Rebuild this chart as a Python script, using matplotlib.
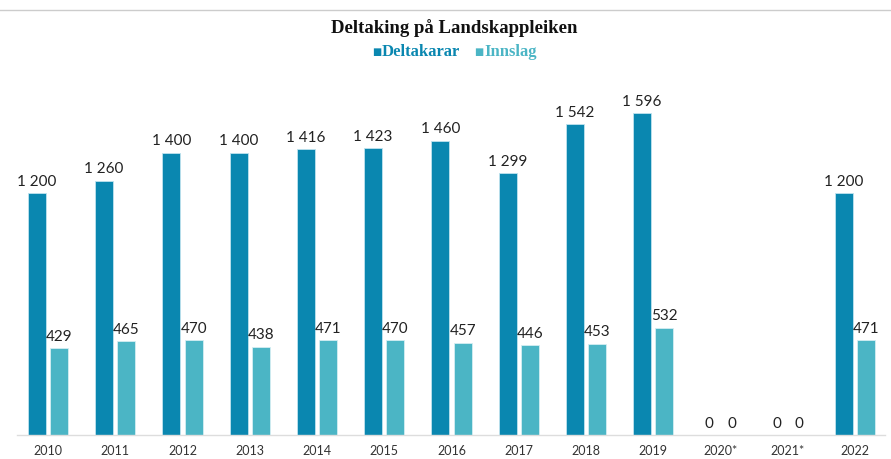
import matplotlib

matplotlib.use("Agg")

import matplotlib.pyplot as plt  # noqa: E402
import numpy as np  # noqa: E402

years = ["2010", "2011", "2012", "2013", "2014", "2015", "2016",
         "2017", "2018", "2019", "2020*", "2021*", "2022"]
deltakarar = [1200, 1260, 1400, 1400, 1416, 1423, 1460,
              1299, 1542, 1596, 0, 0, 1200]
innslag = [429, 465, 470, 438, 471, 470, 457,
           446, 453, 532, 0, 0, 471]

DARK = "#0a87b0"
LIGHT = "#4bb5c5"
SERIF = ["Liberation Serif", "DejaVu Serif"]


def fmt(v):
    return f"{v:,}".replace(",", " ")


fig = plt.figure(figsize=(8.91, 4.59), dpi=100)
ax = fig.add_axes([17 / 891, 24 / 459, 868 / 891, 363 / 459])

x = np.arange(len(years))
w = 0.27
off = 0.165
ax.bar(x - off, deltakarar, width=w, color=DARK, edgecolor="#bfe3ee", linewidth=0.6)
ax.bar(x + off, innslag, width=w, color=LIGHT, edgecolor="#d5eef2", linewidth=0.6)

for xi, v in zip(x, deltakarar):
    ax.text(xi - off, v + 22, fmt(v), ha="center", va="bottom",
            fontsize=11, family="Lato", color="#222222")
for xi, v in zip(x, innslag):
    ax.text(xi + off, v + 22, fmt(v), ha="center", va="bottom",
            fontsize=11, family="Lato", color="#222222")

ax.set_xlim(-0.461, 12.446)
ax.set_ylim(0, 1800)
ax.set_xticks(x)
ax.set_xticklabels(years, fontsize=9, family="Lato", color="#333333")
ax.tick_params(axis="x", length=0, pad=7)
ax.set_yticks([])
for s in ["top", "right", "left"]:
    ax.spines[s].set_visible(False)
ax.spines["bottom"].set_color("#dddddd")
ax.spines["bottom"].set_linewidth(1)

# top rule
fig.add_artist(plt.Line2D([0, 1], [1 - 10 / 459, 1 - 10 / 459],
                          color="#cccccc", linewidth=1))

fig.text(454 / 891, 1 - 28 / 459, "Deltaking på Landskappleiken",
         ha="center", va="center", fontsize=13.5, fontweight="bold",
         family=SERIF, color="#111111")

# legend
fig.text(372 / 891, 1 - 52 / 459, "■", ha="left", va="center",
         fontsize=7, color=DARK)
fig.text(382 / 891, 1 - 52 / 459, "Deltakarar", ha="left", va="center",
         fontsize=12, fontweight="bold", family=SERIF, color=DARK)
fig.text(474 / 891, 1 - 52 / 459, "■", ha="left", va="center",
         fontsize=7, color=LIGHT)
fig.text(484 / 891, 1 - 52 / 459, "Innslag", ha="left", va="center",
         fontsize=12, fontweight="bold", family=SERIF, color=LIGHT)

fig.savefig("out.png", dpi=100)
